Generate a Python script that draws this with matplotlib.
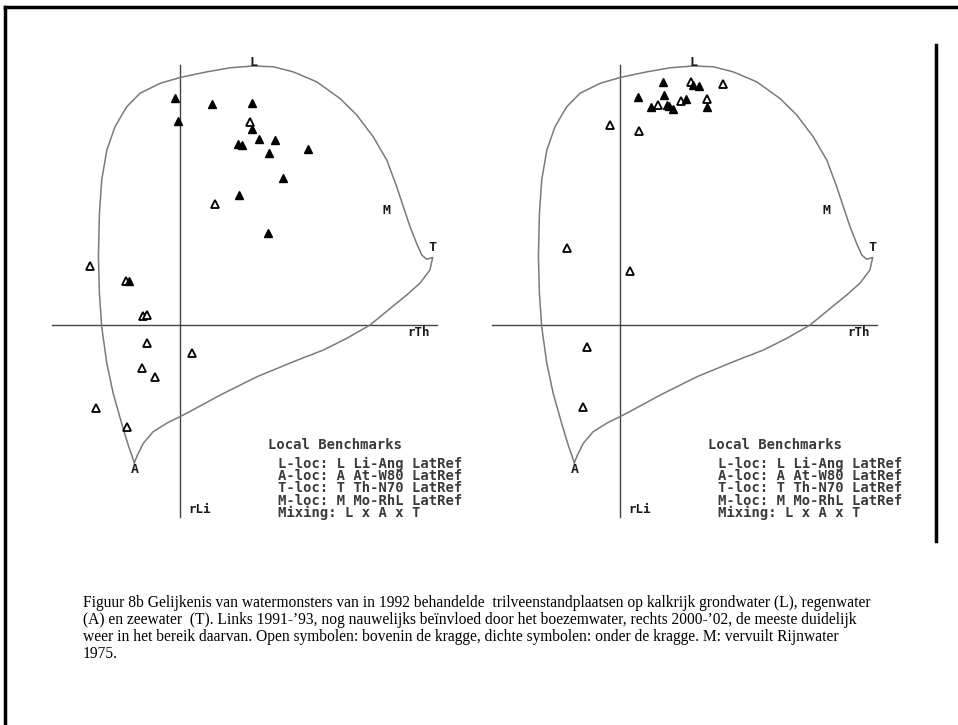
"""
Figuur 8b – watermonsters trilveenstandplaatsen, LiAT-diagram links 1991-'93, rechts 2000-'02
"""
import matplotlib
matplotlib.use("Agg")
import matplotlib.pyplot as plt
from matplotlib.lines import Line2D
import numpy as np

# ── envelope (mixing boundary L x A x T), rTh / rLi units ─────────────────────
ENV_X = [-0.179, -0.203, -0.229, -0.262, -0.287, -0.307, -0.316, -0.320, -0.316,
         -0.307, -0.287, -0.255, -0.209, -0.157, -0.078, 0.000, 0.105, 0.196,
         0.287, 0.366, 0.444, 0.536, 0.627, 0.693, 0.758, 0.811, 0.850, 0.876,
         0.902, 0.928, 0.948, 0.967, 0.991, 0.980, 0.941, 0.889, 0.824, 0.745,
         0.654, 0.562, 0.444, 0.301, 0.157, 0.026, -0.052, -0.105, -0.144,
         -0.167, -0.179]
ENV_Y = [-0.540, -0.471, -0.385, -0.268, -0.150, -0.007, 0.124, 0.268, 0.438,
         0.569, 0.686, 0.778, 0.856, 0.909, 0.948, 0.971, 0.993, 1.009, 1.016,
         1.013, 0.993, 0.954, 0.889, 0.824, 0.738, 0.647, 0.542, 0.464, 0.386,
         0.320, 0.275, 0.258, 0.265, 0.216, 0.164, 0.118, 0.065, 0.000, -0.052,
         -0.098, -0.144, -0.203, -0.275, -0.346, -0.385, -0.418, -0.464, -0.510,
         -0.540]

# benchmark labels
BENCH_NAMES = ["L", "A", "T", "M"]
BENCH_X = [0.287, -0.179, 0.991, 0.810]
BENCH_Y = [1.030, -0.565, 0.305, 0.448]

# ── 1991-'93 (links) ──────────────────────────────────────────────────────────
L_FILLED_X = [-0.020, 0.124, 0.284, -0.007, 0.281, 0.310, 0.373, 0.229, 0.242,
              0.350, 0.503, 0.405, 0.231, 0.344, -0.200]
L_FILLED_Y = [0.889, 0.867, 0.872, 0.800, 0.767, 0.729, 0.725, 0.711, 0.705,
              0.673, 0.690, 0.575, 0.512, 0.362, 0.174]
L_OPEN_X = [0.276, 0.137, -0.353, -0.212, -0.144, -0.128, -0.131, 0.046, -0.148,
            -0.098, -0.329, -0.209]
L_OPEN_Y = [0.797, 0.473, 0.231, 0.174, 0.035, 0.038, -0.069, -0.111, -0.170,
            -0.203, -0.327, -0.399]

# ── 2000-'02 (rechts) ─────────────────────────────────────────────────────────
R_FILLED_X = [0.167, 0.285, 0.311, 0.072, 0.173, 0.259, 0.342, 0.122, 0.183,
              0.209, 0.193]
R_FILLED_Y = [0.954, 0.941, 0.937, 0.893, 0.902, 0.886, 0.856, 0.856, 0.865,
              0.847, 0.859]
R_OPEN_X = [0.278, 0.405, 0.238, 0.342, 0.150, -0.039, 0.076, -0.207, 0.039,
            -0.128, -0.144]
R_OPEN_Y = [0.954, 0.944, 0.880, 0.886, 0.863, 0.784, 0.762, 0.301, 0.213,
            -0.085, -0.320]

LEGEND_TITLE = "Local Benchmarks"
LEGEND_LINES = [
    "L-loc: L Li-Ang LatRef",
    "A-loc: A At-W80 LatRef",
    "T-loc: T Th-N70 LatRef",
    "M-loc: M Mo-RhL LatRef",
    "Mixing: L x A x T",
]

CAPTION = [
    "Figuur 8b Gelijkenis van watermonsters van in 1992 behandelde  trilveenstandplaatsen "
    "op kalkrijk grondwater (L), regenwater",
    "(A) en zeewater  (T). Links 1991-\u201993, nog nauwelijks be\u00efnvloed door het "
    "boezemwater, rechts 2000-\u201902, de meeste duidelijk",
    "weer in het bereik daarvan. Open symbolen: bovenin de kragge, dichte symbolen: "
    "onder de kragge. M: vervuilt Rijnwater",
    "1975.",
]

MONO = "DejaVu Sans Mono"
C_TXT = "#1a1a1a"
C_LEG = "#3a3a3a"
C_ENV = "#7a7a7a"
C_AX = "#444444"

W, H = 958, 725
fig = plt.figure(figsize=(W / 100, H / 100), dpi=100)


def panel(x0, fx, fy, ox, oy):
    # axes of 420x500 px, 255 px per unit
    ax = fig.add_axes([x0 / W, 1 - 540 / H, 420 / W, 500 / H])
    ax.set_xlim(-0.549, 1.098)
    ax.set_ylim(-0.843, 1.118)
    ax.axis("off")

    ax.plot([-0.502, 1.008], [0, 0], color=C_AX, lw=1.0)
    ax.plot([0, 0], [-0.753, 1.02], color=C_AX, lw=1.0)
    ax.plot(ENV_X, ENV_Y, color=C_ENV, lw=1.1)

    for nm, bx, by in zip(BENCH_NAMES, BENCH_X, BENCH_Y):
        ax.text(bx, by, nm, ha="center", va="center", family=MONO,
                fontsize=9.5, fontweight="bold", color=C_TXT)
    ax.text(0.935, -0.03, "rTh", ha="center", va="center", family=MONO,
            fontsize=9, fontweight="bold", color=C_TXT)
    ax.text(0.078, -0.725, "rLi", ha="center", va="center", family=MONO,
            fontsize=9, fontweight="bold", color=C_TXT)

    ax.plot(ox, oy, ls="none", marker="^", ms=5.5, mfc="white", mec="black", mew=1.3)
    ax.plot(fx, fy, ls="none", marker="^", ms=6, mfc="black", mec="black")

    ax.text(0.345, -0.471, LEGEND_TITLE, ha="left", va="center", family=MONO,
            fontsize=10, fontweight="bold", color=C_LEG)
    ax.text(0.384, -0.515, "\n".join(LEGEND_LINES), ha="left", va="top",
            family=MONO, fontsize=10, fontweight="bold", linespacing=0.85,
            color=C_LEG)
    return ax


panel(40, L_FILLED_X, L_FILLED_Y, L_OPEN_X, L_OPEN_Y)
panel(480, R_FILLED_X, R_FILLED_Y, R_OPEN_X, R_OPEN_Y)

# page frame and right bar
fig.add_artist(Line2D([5 / W, 1], [1 - 7 / H, 1 - 7 / H], color="black", lw=2.5))
fig.add_artist(Line2D([5 / W, 5 / W], [0, 1 - 7 / H], color="black", lw=2.5))
fig.add_artist(Line2D([936 / W, 936 / W], [1 - 45 / H, 1 - 541 / H], color="black", lw=2.5))

fig.text(83 / W, 1 - 595 / H, "\n".join(CAPTION), ha="left", va="top",
         family="Liberation Serif", fontsize=11.2, linespacing=1.08, color="black")

fig.savefig("out.png", dpi=100, facecolor="white")
print("saved out.png")
